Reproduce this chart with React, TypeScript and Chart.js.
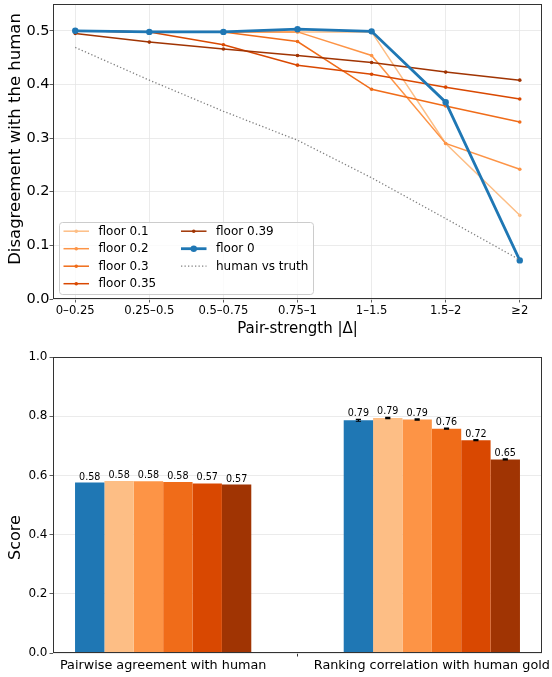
import React, { useEffect, useRef } from 'react';
import { Chart, registerables } from 'chart.js';

Chart.register(...registerables);

const FONT = "'DejaVu Sans', Verdana, sans-serif";

// ---------------- Top chart data ----------------
const bins = ['0–0.25', '0.25–0.5', '0.5–0.75', '0.75–1', '1–1.5', '1.5–2', '≥2'];
const floor0 = [0.5, 0.498, 0.498, 0.503, 0.499, 0.367, 0.072];
const floor01 = [0.5, 0.498, 0.498, 0.498, 0.498, 0.29, 0.156];
const floor02 = [0.5, 0.498, 0.498, 0.498, 0.454, 0.29, 0.242];
const floor03 = [0.5, 0.498, 0.498, 0.48, 0.391, 0.36, 0.33];
const floor035 = [0.5, 0.498, 0.474, 0.436, 0.419, 0.395, 0.373];
const floor039 = [0.495, 0.479, 0.466, 0.454, 0.441, 0.423, 0.408];
const humanVsTruth = [0.469, 0.408, 0.35, 0.296, 0.226, 0.15, 0.073];
const topYTicks = [0, 0.1, 0.2, 0.3, 0.4, 0.5];

// ---------------- Bottom chart data ----------------
const groups = ['Pairwise agreement with human', 'Ranking correlation with human gold'];
const barSeries = ['floor 0', 'floor 0.1', 'floor 0.2', 'floor 0.3', 'floor 0.35', 'floor 0.39'];
const pairwiseScores = [0.576, 0.581, 0.58, 0.578, 0.573, 0.569];
const rankingScores = [0.786, 0.794, 0.789, 0.758, 0.719, 0.654];
const pairwiseErr = [0, 0, 0, 0, 0, 0];
const rankingErr = [0.003, 0.002, 0.002, 0.002, 0.002, 0.002];
const bottomYTicks = [0, 0.2, 0.4, 0.6, 0.8, 1.0];

const BLUE = '#1f77b4';
const ORANGES = ['#fdbe85', '#fd9446', '#f06c19', '#d94801', '#a03403'];
const BAR_COLORS = [BLUE, ...ORANGES];
const GRID = '#e6e6e6';
const SPINE = '#333333';

const framePlugin = {
  id: 'frame',
  afterDatasetsDraw(chart: any) {
    const { ctx, chartArea: a } = chart;
    ctx.save();
    ctx.strokeStyle = SPINE;
    ctx.lineWidth = 1;
    ctx.strokeRect(Math.round(a.left) + 0.5, Math.round(a.top) + 0.5, Math.round(a.right - a.left) - 1, Math.round(a.bottom - a.top) - 1);
    ctx.restore();
  },
};

const yLabelPlugin = {
  id: 'ylabel',
  afterDraw(chart: any, _args: any, opts: any) {
    const ctx = chart.ctx;
    ctx.save();
    ctx.translate(opts.x, opts.y);
    ctx.rotate(-Math.PI / 2);
    ctx.font = `${opts.size}px ${FONT}`;
    ctx.fillStyle = '#000';
    ctx.textAlign = 'center';
    ctx.textBaseline = 'middle';
    ctx.fillText(opts.text, 0, 0);
    ctx.restore();
  },
};

const legendEntries = [
  { label: 'floor 0.1', color: ORANGES[0], width: 1.5, r: 1.8, dash: [] as number[] },
  { label: 'floor 0.2', color: ORANGES[1], width: 1.5, r: 1.8, dash: [] as number[] },
  { label: 'floor 0.3', color: ORANGES[2], width: 1.5, r: 1.8, dash: [] as number[] },
  { label: 'floor 0.35', color: ORANGES[3], width: 1.5, r: 1.8, dash: [] as number[] },
  { label: 'floor 0.39', color: ORANGES[4], width: 1.5, r: 1.8, dash: [] as number[] },
  { label: 'floor 0', color: BLUE, width: 2.8, r: 3.2, dash: [] as number[] },
  { label: 'human vs truth', color: '#808080', width: 1.3, r: 0, dash: [1.3, 2.2] },
];

const legendPlugin = {
  id: 'floorLegend',
  afterDatasetsDraw(chart: any) {
    const { ctx, chartArea: a } = chart;
    const x0 = a.left + 6.5;
    const y0 = a.bottom - 76.5;
    const w = 254;
    const h = 72;
    ctx.save();
    ctx.beginPath();
    const r = 3;
    ctx.moveTo(x0 + r, y0);
    ctx.lineTo(x0 + w - r, y0);
    ctx.arcTo(x0 + w, y0, x0 + w, y0 + r, r);
    ctx.lineTo(x0 + w, y0 + h - r);
    ctx.arcTo(x0 + w, y0 + h, x0 + w - r, y0 + h, r);
    ctx.lineTo(x0 + r, y0 + h);
    ctx.arcTo(x0, y0 + h, x0, y0 + h - r, r);
    ctx.lineTo(x0, y0 + r);
    ctx.arcTo(x0, y0, x0 + r, y0, r);
    ctx.closePath();
    ctx.fillStyle = 'rgba(255,255,255,0.8)';
    ctx.fill();
    ctx.strokeStyle = '#cccccc';
    ctx.lineWidth = 1;
    ctx.stroke();
    legendEntries.forEach((it, idx) => {
      const col = idx < 4 ? 0 : 1;
      const row = idx < 4 ? idx : idx - 4;
      const lx = x0 + (col ? 121.5 : 4);
      const ty = y0 + 8.7 + row * 17.5;
      ctx.strokeStyle = it.color;
      ctx.lineWidth = it.width;
      ctx.setLineDash(it.dash);
      ctx.beginPath();
      ctx.moveTo(lx, ty);
      ctx.lineTo(lx + 25.5, ty);
      ctx.stroke();
      ctx.setLineDash([]);
      if (it.r > 0) {
        ctx.fillStyle = it.color;
        ctx.beginPath();
        ctx.arc(lx + 12.75, ty, it.r, 0, Math.PI * 2);
        ctx.fill();
      }
      ctx.fillStyle = '#000';
      ctx.font = `12px ${FONT}`;
      ctx.textAlign = 'left';
      ctx.textBaseline = 'middle';
      ctx.fillText(it.label, lx + 35, ty + 0.5);
    });
    ctx.restore();
  },
};

const barLabelPlugin = {
  id: 'barLabels',
  afterDatasetsDraw(chart: any) {
    const { ctx } = chart;
    const ys = chart.scales.y;
    const errs = [pairwiseErr, rankingErr];
    ctx.save();
    chart.data.datasets.forEach((ds: any, k: number) => {
      const meta = chart.getDatasetMeta(k);
      meta.data.forEach((el: any, i: number) => {
        const v = ds.data[i].y;
        const e = errs[i][k];
        const x = el.x;
        if (e > 0) {
          const yt = ys.getPixelForValue(v + e);
          const yb = ys.getPixelForValue(v - e);
          ctx.strokeStyle = '#000';
          ctx.lineWidth = 1.2;
          ctx.beginPath();
          ctx.moveTo(x, yt);
          ctx.lineTo(x, yb);
          ctx.moveTo(x - 2.6, yt);
          ctx.lineTo(x + 2.6, yt);
          ctx.moveTo(x - 2.6, yb);
          ctx.lineTo(x + 2.6, yb);
          ctx.stroke();
        }
        const top = ys.getPixelForValue(v + e);
        ctx.fillStyle = '#000';
        ctx.font = `9.6px ${FONT}`;
        ctx.textAlign = 'center';
        ctx.textBaseline = 'alphabetic';
        ctx.fillText(v.toFixed(2), x, top - 3);
      });
    });
    ctx.restore();
  },
};

function lineDs(values: number[], color: string, width: number, radius: number, dash: number[] = []) {
  return {
    data: values.map((y, i) => ({ x: i, y })),
    borderColor: color,
    backgroundColor: color,
    pointBackgroundColor: color,
    pointBorderWidth: 0,
    borderWidth: width,
    pointRadius: radius,
    borderDash: dash,
    tension: 0,
    fill: false,
  };
}

function TopChart() {
  const ref = useRef<HTMLCanvasElement>(null);
  useEffect(() => {
    if (!ref.current) return;
    const chart = new Chart(ref.current, {
      type: 'line',
      data: {
        datasets: [
          lineDs(humanVsTruth, '#808080', 1.3, 0, [1.3, 2.2]),
          lineDs(floor0, BLUE, 2.8, 3.2),
          lineDs(floor039, ORANGES[4], 1.5, 1.8),
          lineDs(floor035, ORANGES[3], 1.5, 1.8),
          lineDs(floor03, ORANGES[2], 1.5, 1.8),
          lineDs(floor02, ORANGES[1], 1.5, 1.8),
          lineDs(floor01, ORANGES[0], 1.5, 1.8),
        ] as any,
      },
      options: {
        animation: false,
        responsive: false,
        devicePixelRatio: 1,
        layout: { padding: { left: 0, right: 10, top: 3, bottom: 0 } },
        plugins: {
          legend: { display: false },
          tooltip: { enabled: false },
          ylabel: { text: 'Disagreement with the human', x: 15.8, y: 139, size: 16.5 },
        } as any,
        scales: {
          x: {
            type: 'linear',
            min: -0.3,
            max: 6.3,
            afterBuildTicks: (s: any) => { s.ticks = bins.map((_, i) => ({ value: i })); },
            afterFit: (s: any) => { s.height = 43; s.paddingLeft = 0; s.paddingRight = 0; },
            ticks: {
              autoSkip: false,
              maxRotation: 0,
              padding: 2,
              color: '#000',
              font: { family: FONT, size: 11.6 },
              callback: (_v: any, i: number) => bins[i],
            },
            grid: { color: GRID, lineWidth: 0.8, tickColor: SPINE, tickLength: 3.5 },
            border: { display: false },
            title: {
              display: true,
              text: 'Pair-strength |Δ|',
              color: '#000',
              font: { family: FONT, size: 15 },
              padding: { top: 0, bottom: 4 },
            },
          },
          y: {
            type: 'linear',
            min: 0,
            max: 0.55,
            afterBuildTicks: (s: any) => { s.ticks = topYTicks.map((v) => ({ value: v })); },
            afterFit: (s: any) => { s.width = 53; s.paddingTop = 0; s.paddingBottom = 0; },
            ticks: {
              padding: 0,
              color: '#000',
              font: { family: FONT, size: 14.5 },
              callback: (v: any) => Number(v).toFixed(1),
            },
            grid: { color: GRID, lineWidth: 0.8, tickColor: SPINE, tickLength: 3.5 },
            border: { display: false },
          },
        },
      } as any,
      plugins: [framePlugin, legendPlugin, yLabelPlugin] as any,
    });
    return () => chart.destroy();
  }, []);
  return <canvas ref={ref} width={552} height={342} style={{ position: 'absolute', left: 0, top: 0, width: 552, height: 342 }} />;
}

function BottomChart() {
  const ref = useRef<HTMLCanvasElement>(null);
  useEffect(() => {
    if (!ref.current) return;
    const chart = new Chart(ref.current, {
      type: 'bar',
      data: {
        datasets: barSeries.map((name, k) => ({
          label: name,
          data: [
            { x: 0, y: pairwiseScores[k] },
            { x: 1, y: rankingScores[k] },
          ],
          backgroundColor: BAR_COLORS[k],
          borderWidth: 0,
          categoryPercentage: 0.656,
          barPercentage: 1.0,
        })) as any,
      },
      options: {
        animation: false,
        responsive: false,
        devicePixelRatio: 1,
        layout: { padding: { left: 0, right: 10, top: 15, bottom: 0 } },
        plugins: {
          legend: { display: false },
          tooltip: { enabled: false },
          ylabel: { text: 'Score', x: 15.5, y: 195.5, size: 16 },
        } as any,
        scales: {
          x: {
            type: 'linear',
            min: -0.41,
            max: 1.41,
            offset: false,
            afterBuildTicks: (s: any) => { s.ticks = groups.map((_, i) => ({ value: i })); },
            afterFit: (s: any) => { s.height = 23; s.paddingLeft = 0; s.paddingRight = 0; },
            ticks: {
              autoSkip: false,
              maxRotation: 0,
              padding: 1,
              color: '#000',
              font: { family: FONT, size: 12.8 },
              callback: (_v: any, i: number) => groups[i],
            },
            grid: { drawOnChartArea: false, color: GRID, tickColor: SPINE, tickLength: 3.5 },
            border: { display: false },
          },
          y: {
            type: 'linear',
            min: 0,
            max: 1,
            afterBuildTicks: (s: any) => { s.ticks = bottomYTicks.map((v) => ({ value: v })); },
            afterFit: (s: any) => { s.width = 53; s.paddingTop = 0; s.paddingBottom = 0; },
            ticks: {
              padding: 2,
              color: '#000',
              font: { family: FONT, size: 12 },
              callback: (v: any) => Number(v).toFixed(1),
            },
            grid: { color: GRID, lineWidth: 0.8, tickColor: SPINE, tickLength: 3.5 },
            border: { display: false },
          },
        },
      } as any,
      plugins: [framePlugin, barLabelPlugin, yLabelPlugin] as any,
    });
    return () => chart.destroy();
  }, []);
  return <canvas ref={ref} width={552} height={334} style={{ position: 'absolute', left: 0, top: 342, width: 552, height: 334 }} />;
}

export default function App() {
  return (
    <div style={{ position: 'absolute', left: 0, top: 0, width: 552, height: 677, background: '#fff' }}>
      <TopChart />
      <BottomChart />
    </div>
  );
}
